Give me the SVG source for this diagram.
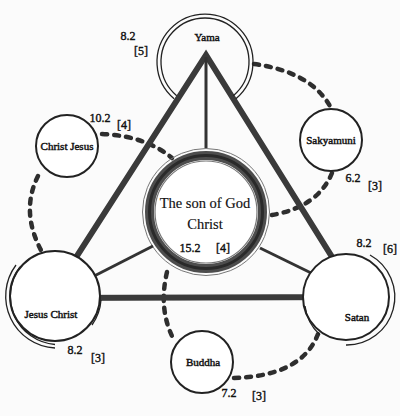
<svg xmlns="http://www.w3.org/2000/svg" width="400" height="416" viewBox="0 0 400 416">
<style>
.bg{fill:#fbfbfb}
.node{fill:#fff;stroke:#222;stroke-width:2}
.arc{fill:none;stroke:#222;stroke-width:1.3}
.tri{fill:none;stroke:#3a3a3a;stroke-width:6;stroke-linejoin:miter}
.spoke{fill:none;stroke:#333;stroke-width:3}
.dash{fill:none;stroke:#2e2e2e;stroke-width:4.5;stroke-dasharray:5 7;stroke-linecap:round}
.lbl{font-family:"Liberation Serif","Times New Roman",serif;font-weight:normal;font-size:11px;fill:#111;stroke:#111;stroke-width:0.45;text-anchor:middle}
.num{font-family:"Liberation Serif","Times New Roman",serif;font-weight:normal;font-size:12px;fill:#111;stroke:#111;stroke-width:0.4;text-anchor:middle}
.big{font-family:"Liberation Serif","Times New Roman",serif;font-size:14.5px;fill:#111;stroke:#111;stroke-width:0.15;text-anchor:middle}
</style>
<rect class="bg" x="0" y="0" width="400" height="416"/>

<g id="connectors">
  <path class="dash" d="M254,64 Q312,72 331,108"/>
  <path class="dash" d="M332,173 Q318,207 272,215"/>
  <path class="dash" d="M102,134 Q146,136 172,158"/>
  <path class="dash" d="M38,176 Q20,212 42,252"/>
  <path class="dash" d="M167,272 Q158,310 174,340"/>
  <path class="dash" d="M234,378 Q302,376 318,334"/>
</g>

<g id="center">
  <circle cx="206" cy="212" r="56.5" fill="#fff" stroke="#4d4d4d" stroke-width="9"/>
  <circle cx="206" cy="212" r="56.5" fill="none" stroke="#2a2a2a" stroke-width="3"/>
  <circle cx="206" cy="212" r="51" fill="none" stroke="#777" stroke-width="1.2"/>
  <circle cx="206" cy="212" r="63.5" fill="none" stroke="#777" stroke-width="1"/>
</g>

<g id="triangle">
  <path class="tri" d="M206,55 L50,298 L357,297 Z"/>
  <line class="spoke" x1="206" y1="57" x2="206" y2="148"/>
  <line class="spoke" x1="153" y1="246" x2="55" y2="296"/>
  <line class="spoke" x1="260" y1="248" x2="350" y2="292"/>
</g>

<g id="yama">
  <path class="arc" stroke-width="2.2" d="M176.7,95.7 A44,44 0 1 1 233.3,95.7"/>
  <path class="arc" d="M174.1,98.8 A48,48 0 1 1 235.9,98.8"/>
  <text class="lbl" x="207" y="41">Yama</text>
  <text class="num" x="128" y="40">8.2</text>
  <text class="num" x="141" y="55">[5]</text>
</g>

<g id="sakyamuni">
  <circle class="node" cx="331" cy="140" r="31"/>
  <text class="lbl" x="331" y="144">Sakyamuni</text>
  <text class="num" x="353" y="182">6.2</text>
  <text class="num" x="375" y="190">[3]</text>
</g>

<g id="christjesus">
  <circle class="node" cx="67" cy="146" r="31"/>
  <text class="lbl" x="67" y="150">Christ Jesus</text>
  <text class="num" x="100" y="122">10.2</text>
  <text class="num" x="124" y="129">[4]</text>
</g>

<g id="jesuschrist">
  <circle class="node" cx="55" cy="296" r="45" fill="none"/>
  <path class="arc" d="M20,267 A48.5,48.5 0 0 0 55,344.5"/>
  <path class="arc" d="M16,265 A52,52 0 0 0 55,348"/>
  <path class="arc" d="M101,300 A48.5,48.5 0 0 1 92,325"/>
  <text class="lbl" x="51" y="318">Jesus Christ</text>
  <text class="num" x="75" y="354">8.2</text>
  <text class="num" x="98" y="362">[3]</text>
</g>

<g id="satan">
  <circle class="node" cx="346" cy="297" r="43" fill="none"/>
  <path class="arc" d="M370,255 A48,48 0 0 1 346,345"/>
  <path class="arc" d="M305,306 A47,47 0 0 0 320,335"/>
  <text class="lbl" x="357" y="321">Satan</text>
  <text class="num" x="364" y="247">8.2</text>
  <text class="num" x="390" y="253">[6]</text>
</g>

<g id="buddha">
  <circle class="node" cx="202" cy="362" r="31"/>
  <text class="lbl" x="203" y="366">Buddha</text>
  <text class="num" x="229" y="397">7.2</text>
  <text class="num" x="259" y="400">[3]</text>
</g>

<g id="centertext">
  <text class="big" x="205" y="208">The son of God</text>
  <text class="big" x="205" y="229">Christ</text>
  <text class="num" x="190" y="252">15.2</text>
  <text class="num" x="223" y="252">[4]</text>
</g>
</svg>
